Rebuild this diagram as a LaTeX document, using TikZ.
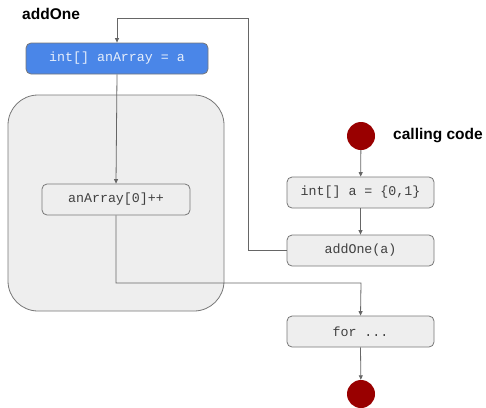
\documentclass[tikz,border=0pt]{standalone}
\usepackage{fontspec}
\setmainfont{Liberation Sans}
\newfontfamily\codefont{Liberation Mono}
\usetikzlibrary{arrows.meta}
\definecolor{linegray}{HTML}{666666}
\definecolor{boxfill}{HTML}{EEEEEE}
\definecolor{boxline}{HTML}{777777}
\definecolor{actblue}{HTML}{4A86E8}
\definecolor{bluetext}{HTML}{E6EEFB}
\definecolor{termred}{HTML}{990000}
\begin{document}
\begin{tikzpicture}[x=1pt,y=-1pt,
  stmt/.style={draw=boxline, fill=boxfill, line width=0.8pt, rounded corners=5pt,
    minimum height=31pt, inner sep=0pt, font=\codefont\fontsize{13.3}{15}\selectfont, text=black!75},
  active/.style={stmt, fill=actblue, text=bluetext},
  terminal/.style={circle, fill=termred, minimum size=28pt, inner sep=0pt},
  flow/.style={draw=linegray, line width=0.8pt, -{Triangle[length=4.5pt,width=4pt]}},
  heading/.style={font=\bfseries\fontsize{15.5}{18}\selectfont, inner sep=0pt, anchor=west}]
\useasboundingbox (0,0) rectangle (486,407);

% method body container
\node[draw=boxline, fill=boxfill, line width=0.8pt, rounded corners=30pt,
      minimum width=216pt, minimum height=216pt, inner sep=0pt] (body) at (116,203) {};

% addOne method
\node[heading] (title) at (22,14) {addOne};
\node[active, minimum width=182pt] (param) at (117,58.5) {int[] anArray = a};
\node[stmt, minimum width=148pt] (inc) at (116,199.5) {anArray[0]++};

% calling code
\node[terminal] (start) at (361,136) {};
\node[heading] (caller) at (393,136) {calling code};
\node[stmt, minimum width=147pt] (init) at (360.5,192.5) {int[] a = \{0,1\}};
\node[stmt, minimum width=147pt] (call) at (360.5,250.5) {addOne(a)};
\node[stmt, minimum width=147pt] (loop) at (360.5,331.5) {for ...};
\node[terminal] (stop) at (361,394) {};

% routing points
\coordinate (callturn) at (248,18);
\coordinate (back) at (361,283);

% connectors
\draw[flow] (start) -- (init);
\draw[flow] (init) -- (call);
\draw[flow] (call.west) -| (callturn) -| (param.north);
\draw[flow] (param.south) -- (inc.north);
\draw[flow] (inc.south) |- (back) -- (loop.north);
\draw[flow] (loop.south) -- (stop);
\end{tikzpicture}
\end{document}
